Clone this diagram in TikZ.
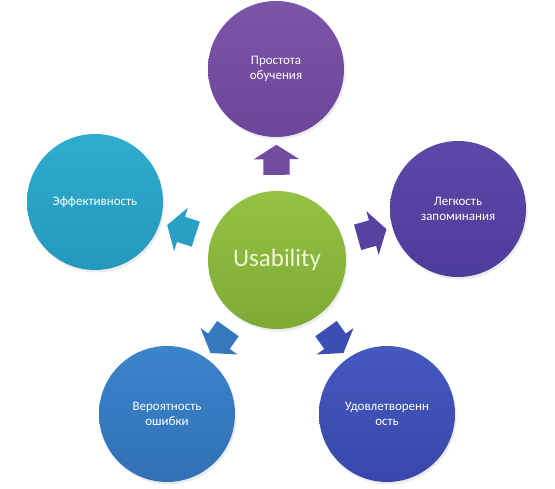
\documentclass[tikz,border=0pt]{standalone}
\usepackage{fontspec}
\setmainfont{Carlito}
\usetikzlibrary{shapes.arrows,shadows}
\definecolor{potop}{RGB}{124,84,168}
\definecolor{pobot}{RGB}{108,70,154}
\definecolor{letop}{RGB}{92,72,168}
\definecolor{lebot}{RGB}{78,60,154}
\definecolor{eftop}{RGB}{46,172,206}
\definecolor{efbot}{RGB}{36,152,188}
\definecolor{vetop}{RGB}{60,132,202}
\definecolor{vebot}{RGB}{48,112,182}
\definecolor{udtop}{RGB}{68,88,190}
\definecolor{udbot}{RGB}{56,72,170}
\definecolor{ustop}{RGB}{148,194,68}
\definecolor{usbot}{RGB}{126,170,52}
\definecolor{ustext}{RGB}{242,246,218}

\begin{document}
\begin{tikzpicture}[x=1pt,y=-1pt,
b/.style={circle,minimum size=136pt,inner sep=0pt,align=center,text=white,font=\fontsize{13}{15}\selectfont,drop shadow={opacity=0.15,shadow xshift=1.5pt,shadow yshift=-2.5pt}},
a/.style={single arrow,inner xsep=0pt,inner ysep=13pt,minimum height=30pt,single arrow head extend=9.5pt,single arrow tip angle=115,sloped,allow upside down,midway}]
\useasboundingbox[fill=white] (0,0) rectangle (555,489);
\node[b,top color=ustop,bottom color=usbot,text=ustext,font=\fontsize{25}{30}\selectfont,minimum size=138pt] (us) at (277,260) {Usability};
\node[b,top color=potop,bottom color=pobot] (po) at (276,69) {Простота\\обучения};
\node[b,top color=letop,bottom color=lebot] (le) at (458,209) {Легкость\\запоминания};
\node[b,top color=eftop,bottom color=efbot] (ef) at (95,202) {Эффективность};
\node[b,top color=vetop,bottom color=vebot] (ve) at (167,414) {Вероятность\\ошибки};
\node[b,top color=udtop,bottom color=udbot] (ud) at (387,414) {Удовлетворенн\\ость};
\path (us) -- (po) node[a,fill=pobot!60!potop] {};
\path (us) -- (le) node[a,fill=lebot!60!letop] {};
\path (us) -- (ef) node[a,fill=efbot!60!eftop] {};
\path (us) -- (ve) node[a,fill=vebot!60!vetop] {};
\path (us) -- (ud) node[a,fill=udbot!60!udtop] {};
\end{tikzpicture}
\end{document}
